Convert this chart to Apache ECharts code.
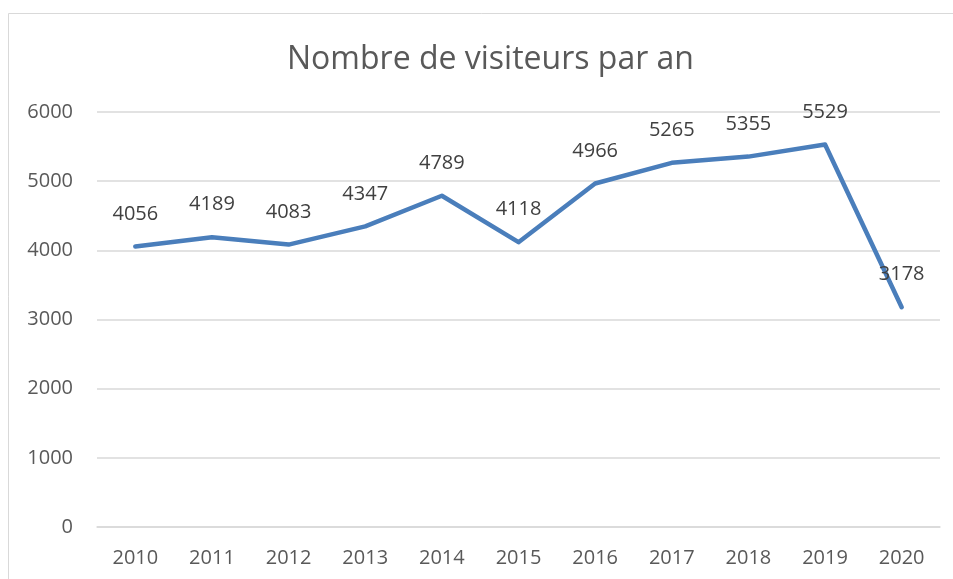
<!DOCTYPE html>
<html>
<head>
<meta charset="utf-8">
<script src="https://cdn.jsdelivr.net/npm/echarts@6/dist/echarts.min.js"></script>
<style>
html,body{margin:0;padding:0;background:#fff;}
#c{width:953px;height:579px;}
</style>
</head>
<body>
<div id="c"></div>
<script>
const categories = ['2010','2011','2012','2013','2014','2015','2016','2017','2018','2019','2020'];
const visitors = [4056, 4189, 4083, 4347, 4789, 4118, 4966, 5265, 5355, 5529, 3178];
const titleText = 'Nombre de visiteurs par an';
const yMin = 0, yMax = 6000, yInterval = 1000;

const chart = echarts.init(document.getElementById('c'), null, {renderer: 'canvas'});
chart.setOption({
  backgroundColor: '#fff',
  animation: false,
  graphic: [{
    type: 'rect', silent: true, z: -1,
    shape: {x: 8.5, y: 13.5, width: 1000, height: 700},
    style: {fill: 'none', stroke: '#d9d9d9', lineWidth: 1}
  }],
  title: {
    text: titleText,
    left: 282,
    top: 39,
    textStyle: {fontFamily: 'Open Sans', fontSize: 32, fontWeight: 'normal', color: '#595959'}
  },
  grid: {left: 97, right: 13, top: 112, bottom: 52, containLabel: false},
  xAxis: {
    type: 'category',
    data: categories,
    boundaryGap: true,
    axisLine: {show: true, lineStyle: {color: '#d9d9d9', width: 1.5}},
    axisTick: {show: false},
    axisLabel: {fontFamily: 'Open Sans', fontSize: 20, color: '#595959', margin: 21}
  },
  yAxis: {
    type: 'value',
    min: yMin, max: yMax, interval: yInterval,
    axisLine: {show: false},
    axisTick: {show: false},
    splitLine: {lineStyle: {color: '#d9d9d9', width: 1.5}},
    axisLabel: {fontFamily: 'Open Sans', fontSize: 20, color: '#595959', margin: 24,
      formatter: v => String(v)}
  },
  series: [{
    type: 'line',
    data: visitors,
    symbol: 'circle',
    symbolSize: 3,
    showSymbol: true,
    itemStyle: {color: '#4a7ebb'},
    lineStyle: {color: '#4a7ebb', width: 4.5, join: 'round', cap: 'round'},
    label: {
      show: true, position: 'top', distance: 21,
      fontFamily: 'Open Sans', fontSize: 20, color: '#404040'
    }
  }]
});
</script>
</body>
</html>
